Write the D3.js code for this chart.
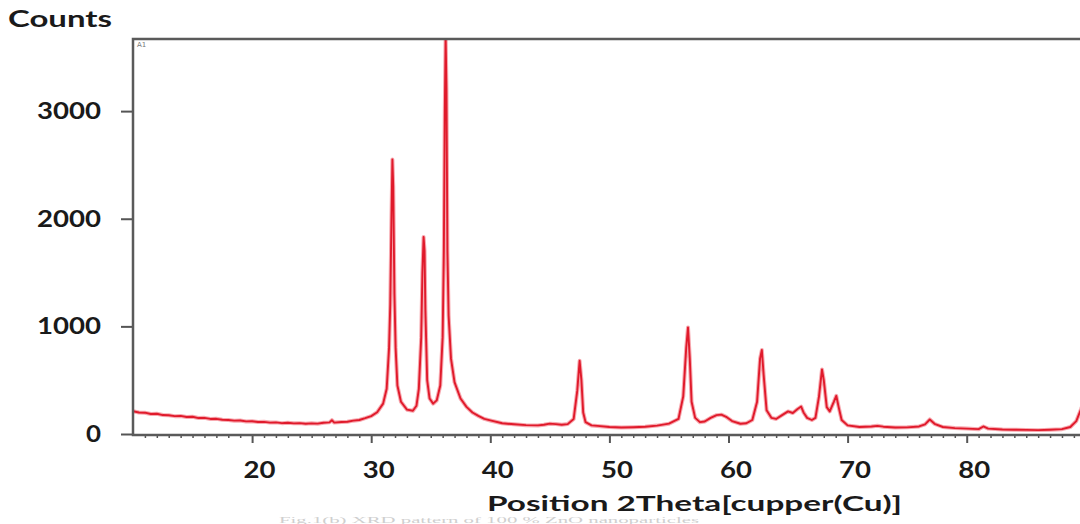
<!DOCTYPE html>
<html>
<head>
<meta charset="utf-8">
<script src="https://cdn.jsdelivr.net/npm/d3@7"></script>
<style>
  body { margin: 0; background: #fff; }
  svg { display: block; }
  .lbl { font-family: Lato, "Open Sans", sans-serif; font-weight: 700; fill: #1a1a1a; }
</style>
</head>
<body>
<div id="chart"></div>
<script>
// tick labels
const X_TICKS = [20, 30, 40, 50, 60, 70, 80];
const Y_TICKS = [0, 1000, 2000, 3000];

// diffractogram: position 2theta (deg) and counts
const twoTheta = [
  10.0, 10.5, 11.0, 11.5, 12.0, 12.5, 13.0, 13.5, 14.0, 14.5, 15.0, 15.5, 16.0, 16.5, 17.0, 17.5,
  18.0, 18.5, 19.0, 19.5, 20.0, 20.5, 21.0, 21.5, 22.0, 22.5, 23.0, 23.5, 24.0, 24.5, 25.0, 25.5,
  26.0, 26.5, 26.7, 26.9, 27.5, 28.0, 28.5, 29.0, 29.5, 30.0, 30.5, 31.0, 31.3, 31.5, 31.6, 31.7,
  31.78, 31.85, 31.95, 32.05, 32.2, 32.5, 33.0, 33.5, 33.8, 34.0, 34.2, 34.3, 34.4, 34.48, 34.55,
  34.7, 34.9, 35.2, 35.5, 35.8, 36.0, 36.1, 36.18, 36.25, 36.32, 36.4, 36.5, 36.7, 37.0, 37.5,
  38.0, 38.5, 39.0, 39.5, 40.0, 41.0, 42.0, 43.0, 44.0, 44.5, 45.0, 45.5, 46.0, 46.5, 47.0, 47.3,
  47.5, 47.65, 47.8, 48.0, 48.5, 49.0, 50.0, 51.0, 52.0, 53.0, 54.0, 55.0, 55.8, 56.2, 56.45, 56.6,
  56.75, 56.9, 57.2, 57.6, 58.0, 58.5, 59.0, 59.4, 59.8, 60.3, 61.0, 61.5, 62.0, 62.4, 62.65, 62.8,
  62.95, 63.2, 63.6, 64.0, 64.5, 65.0, 65.4, 65.8, 66.1, 66.3, 66.6, 67.0, 67.3, 67.6, 67.85, 68.0,
  68.25, 68.5, 68.85, 69.05, 69.25, 69.5, 70.0, 71.0, 72.0, 72.5, 73.0, 74.0, 75.0, 76.0, 76.5,
  76.9, 77.3, 78.0, 79.0, 80.0, 81.0, 81.4, 81.8, 83.0, 84.0, 85.0, 86.0, 87.0, 88.0, 88.7, 89.2,
  89.6, 90.0
];
const counts = [
  212, 200, 198, 186, 188, 176, 174, 166, 168, 158, 160, 148, 150, 140, 141, 132,
  130, 124, 126, 117, 119, 111, 113, 106, 108, 101, 104, 99, 101, 95, 99, 96,
  104, 108, 128, 106, 112, 114, 124, 130, 147, 166, 202, 282, 420, 800, 1200, 2000,
  2550, 2300, 1300, 800, 450, 300, 226, 216, 262, 420, 900, 1500, 1830, 1700, 1150,
  500, 330, 282, 312, 450, 900, 1700, 3000, 3700, 3200, 1700, 1100, 700, 480, 330,
  252, 200, 168, 140, 126, 100, 90, 82, 80, 86, 96, 92, 86, 92, 140, 400,
  680, 500, 200, 110, 80, 75, 65, 60, 63, 68, 78, 96, 140, 350, 800, 990,
  700, 300, 150, 110, 116, 150, 175, 180, 160, 120, 95, 100, 130, 300, 700, 780,
  550, 220, 150, 140, 175, 210, 195, 232, 255, 200, 150, 130, 150, 350, 600, 500,
  250, 210, 300, 355, 250, 130, 80, 65, 70, 76, 68, 60, 62, 70, 90,
  135, 95, 65, 55, 50, 45, 70, 50, 42, 40, 38, 36, 40, 45, 65, 120,
  230, 350
];

const W = 1080, H = 524;
const mLeft = 133, mTop = 39, mBottom = 434;

const svg = d3.select("#chart").append("svg")
  .attr("width", W).attr("height", H);

const x = d3.scaleLinear().domain([10, 90]).range([mLeft, mLeft + 80 * 11.91]);
const y = d3.scaleLinear().domain([0, 3670]).range([mBottom, mTop]);

svg.append("defs").append("clipPath").attr("id", "plotclip")
  .append("rect").attr("x", mLeft).attr("y", mTop).attr("width", W - mLeft).attr("height", mBottom - mTop);

// pattern
const pts = twoTheta.map((t, i) => [t, counts[i]]);
const line = d3.line().x(d => x(d[0])).y(d => y(d[1])).curve(d3.curveLinear);

const plot = svg.append("g").attr("clip-path", "url(#plotclip)");
plot.append("path").datum(pts)
  .attr("fill", "none").attr("stroke", "#f7a9b0").attr("stroke-width", 4)
  .attr("stroke-linejoin", "round").attr("d", line);
plot.append("path").datum(pts)
  .attr("fill", "none").attr("stroke", "#e01a2b").attr("stroke-width", 1.9)
  .attr("stroke-linejoin", "round").attr("d", line);

// minor x ticks
svg.append("g").attr("transform", `translate(0,${mBottom})`)
  .call(d3.axisBottom(x).tickValues(d3.range(11, 90).filter(v => v % 10)).tickSize(4).tickFormat(""))
  .call(g => g.select(".domain").remove())
  .call(g => g.selectAll("line").attr("stroke", "#555").attr("stroke-width", 1.5));

// major x ticks
const xAxis = svg.append("g").attr("transform", `translate(0,${mBottom})`)
  .call(d3.axisBottom(x).tickValues(X_TICKS).tickSize(9).tickPadding(19))
  .call(g => g.select(".domain").remove())
  .call(g => g.selectAll("line").attr("stroke", "#555").attr("stroke-width", 2));
xAxis.selectAll("text").attr("class", "lbl").attr("font-size", 22).attr("dx", 7)
  .attr("textLength", 32).attr("lengthAdjust", "spacingAndGlyphs");

// y axis
const yAxis = svg.append("g").attr("transform", `translate(${mLeft},0)`)
  .call(d3.axisLeft(y).tickValues(Y_TICKS).tickSize(12).tickPadding(20).tickFormat(d3.format("d")))
  .call(g => g.select(".domain").remove())
  .call(g => g.selectAll("line").attr("stroke", "#555").attr("stroke-width", 2));
yAxis.selectAll("text").attr("class", "lbl").attr("font-size", 23)
  .attr("textLength", d => d === 0 ? 15 : 64).attr("lengthAdjust", "spacingAndGlyphs");

// frame
svg.append("path")
  .attr("d", `M${W},${mTop}H${mLeft}V${mBottom + 1}H${W}`)
  .attr("fill", "none").attr("stroke", "#5a5a5a").attr("stroke-width", 2.5);

svg.append("text").attr("x", 137).attr("y", 47)
  .attr("font-family", "DejaVu Sans").attr("font-size", 7).attr("fill", "#777").text("A1");

svg.append("text").attr("class", "lbl").attr("x", 8).attr("y", 27)
  .attr("font-size", 22).attr("textLength", 104).attr("lengthAdjust", "spacingAndGlyphs")
  .text("Counts");

svg.append("text").attr("class", "lbl").attr("x", 487).attr("y", 511)
  .attr("font-size", 20.5).attr("textLength", 415).attr("lengthAdjust", "spacingAndGlyphs")
  .text("Position 2Theta[cupper(Cu)]");

svg.append("text").attr("x", 279).attr("y", 523)
  .attr("font-family", "Liberation Serif").attr("font-size", 7.5).attr("fill", "#cfcfcf")
  .attr("textLength", 420).attr("lengthAdjust", "spacingAndGlyphs")
  .text("Fig.1(b) XRD pattern of 100 % ZnO nanoparticles");
</script>
</body>
</html>
